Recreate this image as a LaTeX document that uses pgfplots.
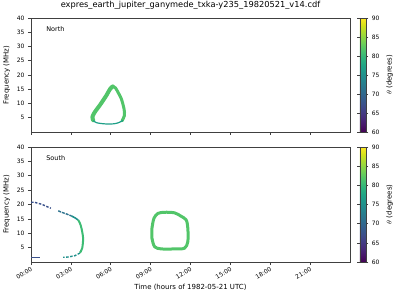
\documentclass[border=0pt]{standalone}
\usepackage{pgfplots}
\pgfplotsset{compat=1.18}
\usepackage{fontspec}
\setmainfont{DejaVu Sans}
\definecolor{vdb}{HTML}{3B528B}
\definecolor{vmb}{HTML}{2C728E}
\definecolor{vteal}{HTML}{21918C}
\definecolor{vtg}{HTML}{1FA088}
\definecolor{vgt}{HTML}{3DBC74}
\definecolor{vgreen}{HTML}{52C569}
\pgfplotsset{
  myaxis/.style={
    scale only axis, width=319bp,
    xmin=0, xmax=24, ymin=0, ymax=40,
    xtick={0,3,...,21}, ytick={5,10,...,40},
    tick align=outside, tick pos=left, major tick length=3bp,
    axis line style={line width=0.6bp, black!75},
    every tick/.style={line width=0.6bp, black!75},
    /pgf/number format/assume math mode=true,
    tick label style={font=\fontsize{6}{7}\selectfont},
    label style={font=\fontsize{7}{8}\selectfont},
    ylabel={Frequency (MHz)},
    colorbar, colormap/viridis, point meta min=60, point meta max=90,
    colorbar style={
      width=6bp, at={(1.031,1)}, anchor=north west,
      ytick={60,65,...,90},
      tick align=outside, major tick length=2.5bp,
      axis line style={line width=0.6bp, black!75},
      every tick/.style={line width=0.6bp, black!75},
      yticklabel style={font=\fontsize{6}{7}\selectfont},
      ylabel={$\theta$ (degrees)},
      ylabel style={font=\fontsize{7}{8}\selectfont},
      /pgf/number format/assume math mode=true,
    },
  }
}
\begin{document}
\begin{tikzpicture}
\useasboundingbox (-31bp,18bp) rectangle (369bp,-282bp);
% ---------- North ----------
\begin{axis}[myaxis, name=top, at={(0,0)}, anchor=north west, height=114bp,
  xticklabels={},
  title={expres\_earth\_jupiter\_ganymede\_txka-y235\_19820521\_v14.cdf},
  title style={font=\fontsize{8.3}{9}\selectfont, at={(0.5,1)}, anchor=base, yshift=4.7bp},
]
\node[anchor=west, font=\fontsize{6.5}{7}\selectfont] at (rel axis cs:0.037,0.9) {North};
% right side (thinner)
\addplot[vgreen, line width=3bp, smooth, line join=round, line cap=round] coordinates {
 (6.85,3.9) (7.03,5.79) (7.00,8.1) (6.80,11.6) (6.55,13.9) (6.35,15.5) (6.15,16.0)
};
% left side (thicker)
\addplot[vgreen, line width=4bp, smooth, line join=round, line cap=round] coordinates {
 (6.15,16.0) (5.95,15.1) (5.68,12.9) (5.18,9.4) (4.80,7.0) (4.62,5.3) (4.68,4.1)
};
% bottom thin teal
\addplot[vtg, line width=1.2bp, smooth] coordinates {
 (4.68,4.0) (4.93,3.26) (5.55,2.85) (6.17,2.85) (6.55,3.2) (6.92,4.05)
};
\end{axis}
% ---------- South ----------
\begin{axis}[myaxis, name=bot, at={(0,-129bp)}, anchor=north west, height=115bp,
  xticklabels={00:00,03:00,06:00,09:00,12:00,15:00,18:00,21:00},
  xticklabel style={rotate=30, anchor=north east, inner sep=1bp},
  xlabel={Time (hours of 1982-05-21 UTC)},
]
\node[anchor=west, font=\fontsize{6.5}{7}\selectfont] at (rel axis cs:0.037,0.9) {South};
% loop 09-12
\addplot[vgreen, line width=3bp, smooth, line join=round] coordinates {
 (9.10,10.0) (9.10,11.7) (9.25,15.2) (9.55,16.9) (10.05,17.3) (10.8,17.1) (11.3,15.9)
 (11.68,14.6) (11.80,11.7) (11.80,7.1) (11.55,4.8) (10.80,4.55) (9.80,4.55) (9.30,5.3)
 (9.10,8.3) (9.10,10.0)
};
% arc: dark blue part
\addplot[vdb, line width=1.4bp, dash pattern=on 2.5bp off 1.5bp] coordinates {
 (0.0,20.8) (0.25,20.8) (0.5,20.45) (0.8,20.1) (1.1,19.5) (1.3,19.06) (1.5,18.7)
};
\addplot[vmb, line width=1.4bp, dash pattern=on 3bp off 1bp] coordinates {
 (2.05,17.8) (2.3,17.3) (2.68,16.7) (3.05,16.0)
};
\addplot[vteal, line width=1.6bp] coordinates {
 (3.05,16.0) (3.3,15.4) (3.55,14.6)
};
\addplot[vgt, line width=2bp, smooth] coordinates {
 (3.55,14.6) (3.68,13.5) (3.8,11.7) (3.92,8.26) (3.85,4.77) (3.68,3.2)
};
\addplot[vteal, line width=1.4bp, dash pattern=on 2.5bp off 1.5bp] coordinates {
 (3.68,3.1) (3.3,2.2) (2.8,1.74) (2.42,1.64)
};
\addplot[vdb, line width=1.3bp] coordinates {
 (0.0,1.5) (0.68,1.5)
};
\end{axis}
\end{tikzpicture}
\end{document}
